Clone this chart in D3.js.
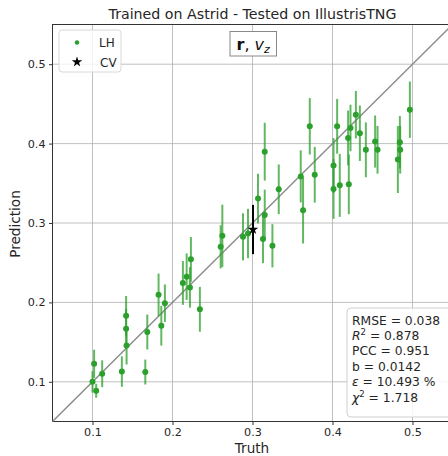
<!DOCTYPE html>
<html>
<head>
<meta charset="utf-8">
<script src="https://cdn.jsdelivr.net/npm/d3@7"></script>
<style>
  body { margin: 0; background: #fff; }
  svg { display: block; font-family: "DejaVu Sans", sans-serif; }
</style>
</head>
<body>
<script>
// LH points: truth, prediction, error
var truth = [0.102, 0.100, 0.1046, 0.1121, 0.1367, 0.1426, 0.166, 0.142, 0.142, 0.1685,
  0.1826, 0.1905, 0.186, 0.213, 0.2177, 0.223, 0.2218, 0.2342,
  0.2602, 0.2623, 0.2881, 0.2944, 0.3069, 0.3153, 0.3153, 0.3131, 0.3249, 0.3328,
  0.3603, 0.3632, 0.3778, 0.3716,
  0.4058, 0.4013, 0.4013, 0.4091, 0.4204, 0.4195, 0.4225, 0.4292, 0.4342, 0.4417,
  0.4533, 0.4563, 0.4842, 0.4846, 0.4817, 0.4967];
var pred = [0.1226, 0.100, 0.0887, 0.1101, 0.1129, 0.1458, 0.1123, 0.1831, 0.1668, 0.1627,
  0.2095, 0.199, 0.1706, 0.2245, 0.2324, 0.2542, 0.2189, 0.1913,
  0.270, 0.2838, 0.2826, 0.2868, 0.3307, 0.3898, 0.3102, 0.2797, 0.2713, 0.3424,
  0.3587, 0.316, 0.3608, 0.4218,
  0.4218, 0.3725, 0.3428, 0.3474, 0.3487, 0.4072, 0.4197, 0.4364, 0.413, 0.3922,
  0.4026, 0.3922, 0.4017, 0.3922, 0.380, 0.4427];
var err = [0.0178, 0.0135, 0.0088, 0.0169, 0.0192, 0.024, 0.0157, 0.025, 0.025, 0.022,
  0.0268, 0.0236, 0.025, 0.0276, 0.0293, 0.0282, 0.0255, 0.0282,
  0.0272, 0.0393, 0.0297, 0.031, 0.0313, 0.0364, 0.0318, 0.0303, 0.0272, 0.0313,
  0.0328, 0.0418, 0.0351, 0.0355,
  0.0345, 0.0345, 0.0376, 0.0397, 0.0376, 0.0345, 0.0293, 0.0299, 0.0349, 0.0345,
  0.0328, 0.0301, 0.033, 0.030, 0.0422, 0.0355];

// CV point
var cvTruth = [0.3006];
var cvPred = [0.2918];
var cvErr = [0.031];

var ticks = [0.1, 0.2, 0.3, 0.4, 0.5];
var statLines = ["RMSE = 0.038", "R2 = 0.878", "PCC = 0.951", "b = 0.0142", "ε = 10.493 %", "χ2 = 1.718"];

window.onload = () => {
  var W = 448, H = 456;
  var x = d3.scaleLinear().domain([0.05, 0.55]).range([52.5, 452.5]);
  var y = d3.scaleLinear().domain([0.05, 0.55]).range([421.5, 24.5]);
  var green = "#2ca02c";

  var svg = d3.select("body").append("svg").attr("width", W).attr("height", H);

  // grid
  var grid = svg.append("g");
  grid.selectAll(".gx").data(ticks).enter().append("line")
    .attr("x1", d => x(d)).attr("x2", d => x(d))
    .attr("y1", y(0.55)).attr("y2", y(0.05))
    .attr("stroke", "#b0b0b0").attr("stroke-width", 0.8);
  grid.selectAll(".gy").data(ticks).enter().append("line")
    .attr("y1", d => y(d)).attr("y2", d => y(d))
    .attr("x1", x(0.05)).attr("x2", x(0.55))
    .attr("stroke", "#b0b0b0").attr("stroke-width", 0.8);

  // axes
  var xAxis = svg.append("g")
    .attr("transform", "translate(0," + y(0.05) + ")")
    .call(d3.axisBottom(x).tickValues(ticks).tickSize(3.5).tickPadding(3.5).tickFormat(d3.format(".1f")));
  var yAxis = svg.append("g")
    .attr("transform", "translate(" + x(0.05) + ",0)")
    .call(d3.axisLeft(y).tickValues(ticks).tickSize(3.5).tickPadding(3.5).tickFormat(d3.format(".1f")));
  [xAxis, yAxis].forEach(a => {
    a.select(".domain").remove();
    a.selectAll("text").style("font-size", "11.2px").attr("fill", "#262626").style("font-family", "DejaVu Sans");
    a.selectAll("line").attr("stroke", "#333");
  });

  // spines
  svg.append("rect")
    .attr("x", x(0.05)).attr("y", y(0.55))
    .attr("width", x(0.55) - x(0.05)).attr("height", y(0.05) - y(0.55))
    .attr("fill", "none").attr("stroke", "#333").attr("stroke-width", 1);

  // diagonal
  svg.append("line")
    .attr("x1", x(0.05)).attr("y1", y(0.05))
    .attr("x2", x(0.55)).attr("y2", y(0.55))
    .attr("stroke", "#8c8c8c").attr("stroke-width", 1.5);

  // LH error bars and points
  var lh = truth.map((t, i) => ({ t: t, p: pred[i], e: err[i] }));
  svg.append("g").selectAll("line").data(lh).enter().append("line")
    .attr("x1", d => x(d.t)).attr("x2", d => x(d.t))
    .attr("y1", d => y(d.p - d.e)).attr("y2", d => y(d.p + d.e))
    .attr("stroke", green).attr("stroke-opacity", 0.75).attr("stroke-width", 2);
  svg.append("g").selectAll("circle").data(lh).enter().append("circle")
    .attr("cx", d => x(d.t)).attr("cy", d => y(d.p))
    .attr("r", 3).attr("fill", green);

  // CV
  var cv = cvTruth.map((t, i) => ({ t: t, p: cvPred[i], e: cvErr[i] }));
  svg.append("g").selectAll("line").data(cv).enter().append("line")
    .attr("x1", d => x(d.t)).attr("x2", d => x(d.t))
    .attr("y1", d => y(d.p - d.e)).attr("y2", d => y(d.p + d.e))
    .attr("stroke", "#000").attr("stroke-width", 2);
  var star = d3.symbol().type(d3.symbolStar).size(34);
  svg.append("g").selectAll("path").data(cv).enter().append("path")
    .attr("d", star)
    .attr("transform", d => "translate(" + x(d.t) + "," + y(d.p) + ")")
    .attr("fill", "#000");

  // title and labels
  svg.append("text").attr("x", 252.5).attr("y", 18.5).attr("text-anchor", "middle")
    .style("font-size", "14.2px").attr("fill", "#262626")
    .text("Trained on Astrid - Tested on IllustrisTNG");
  svg.append("text").attr("x", 252).attr("y", 453).attr("text-anchor", "middle")
    .style("font-size", "13.6px").attr("fill", "#262626").text("Truth");
  svg.append("text").attr("transform", "translate(20,224) rotate(-90)")
    .attr("text-anchor", "middle")
    .style("font-size", "13.6px").attr("fill", "#262626").text("Prediction");

  // legend
  svg.append("rect").attr("x", 59).attr("y", 30).attr("width", 62).attr("height", 42)
    .attr("rx", 3).attr("fill", "#fff").attr("fill-opacity", 0.8)
    .attr("stroke", "#d8d8d8").attr("stroke-width", 1);
  svg.append("circle").attr("cx", 77).attr("cy", 42.5).attr("r", 2.3).attr("fill", green);
  svg.append("path").attr("d", star).attr("transform", "translate(77,62)").attr("fill", "#000");
  svg.append("text").attr("x", 99).attr("y", 47).style("font-size", "12px").attr("fill", "#262626").text("LH");
  svg.append("text").attr("x", 100).attr("y", 66.5).style("font-size", "12px").attr("fill", "#262626").text("CV");

  // feature box
  svg.append("rect").attr("x", 230).attr("y", 31.5).attr("width", 46.5).attr("height", 24.5)
    .attr("fill", "#fff").attr("stroke", "#888").attr("stroke-width", 1);
  var ft = svg.append("text").attr("x", 253.2).attr("y", 50).attr("text-anchor", "middle")
    .style("font-size", "16px").attr("fill", "#111");
  ft.append("tspan").style("font-weight", "bold").text("r");
  ft.append("tspan").text(", ");
  ft.append("tspan").style("font-style", "italic").text("v");
  ft.append("tspan").style("font-style", "italic").style("font-size", "11px").attr("dy", 3).text("z");

  // stats box
  svg.append("rect").attr("x", 347).attr("y", 308).attr("width", 110).attr("height", 109)
    .attr("rx", 4).attr("fill", "#fff").attr("fill-opacity", 0.85)
    .attr("stroke", "#cfcfcf").attr("stroke-width", 1);
  var st = svg.append("g").style("font-size", "12.3px").attr("fill", "#262626");
  statLines.forEach((s, i) => {
    var t = st.append("text").attr("x", 352).attr("y", 324.5 + i * 15.4);
    if (s.startsWith("R2")) {
      t.append("tspan").style("font-style", "italic").text("R");
      t.append("tspan").style("font-size", "8.5px").attr("dy", -5).text("2");
      t.append("tspan").attr("dy", 5).text(" = 0.878");
    } else if (s.startsWith("χ2")) {
      t.append("tspan").style("font-style", "italic").text("χ");
      t.append("tspan").style("font-size", "8.5px").attr("dy", -5).text("2");
      t.append("tspan").attr("dy", 5).text(" = 1.718");
    } else if (s.startsWith("ε")) {
      t.append("tspan").style("font-style", "italic").text("ε");
      t.append("tspan").text(s.slice(1));
    } else {
      t.text(s);
    }
  });
};
</script>
</body>
</html>
